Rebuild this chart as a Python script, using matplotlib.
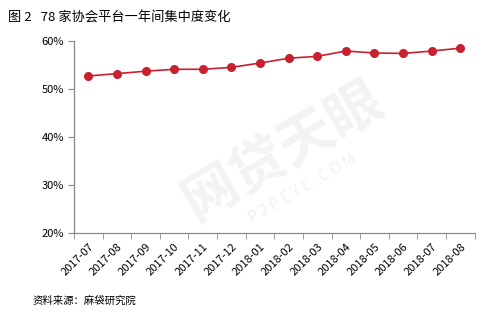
import matplotlib
matplotlib.use("Agg")
import matplotlib.pyplot as plt
import numpy as np
from matplotlib.ticker import FixedLocator, PercentFormatter

plt.rcParams['font.family'] = ['Noto Sans CJK SC', 'DejaVu Sans']

months = ["2017-07", "2017-08", "2017-09", "2017-10", "2017-11", "2017-12", "2018-01",
          "2018-02", "2018-03", "2018-04", "2018-05", "2018-06", "2018-07", "2018-08"]
values = [52.7, 53.2, 53.7, 54.1, 54.1, 54.5, 55.4, 56.4, 56.8, 57.9, 57.5, 57.4, 57.9, 58.5]
yticks = [20, 30, 40, 50, 60]

fig = plt.figure(figsize=(4.88, 3.15), dpi=100)
ax = fig.add_axes([0.1516, 0.260, 0.821, 0.610])

x = np.arange(len(months))
color = "#C8202F"
ax.plot(x, values, color=color, lw=1.2, marker="o", markersize=5.5, zorder=3)

ax.set_xlim(-0.5, len(months) - 0.5)
ax.set_ylim(20, 60)
ax.yaxis.set_major_locator(FixedLocator(yticks))
ax.yaxis.set_major_formatter(PercentFormatter(decimals=0))
ax.set_xticks(x)
ax.set_xticklabels(months, rotation=45, ha="right", rotation_mode="anchor", fontsize=8)
ax.tick_params(axis="x", length=0, pad=6)
ax.set_xticks(np.arange(-0.5, len(months), 1), minor=True)
ax.tick_params(axis="x", which="minor", length=4, color="#888888")
ax.tick_params(axis="y", labelsize=8, length=4, color="#888888", pad=3)

for s in ["top", "right"]:
    ax.spines[s].set_visible(False)
for s in ["left", "bottom"]:
    ax.spines[s].set_color("#888888")
    ax.spines[s].set_linewidth(0.9)

# watermark
fig.text(0.58, 0.52, "网贷天眼", fontsize=40, color="#000000", alpha=0.05,
         rotation=30, ha="center", va="center", fontweight="bold")
fig.text(0.62, 0.40, "P 2 P E Y E . C O M", fontsize=11, color="#000000", alpha=0.06,
         rotation=30, ha="center", va="center")

fig.text(0.016, 0.965, "图 2   78 家协会平台一年间集中度变化", fontsize=9.5, ha="left", va="top")
fig.text(0.066, 0.045, "资料来源：麻袋研究院", fontsize=7.5, ha="left", va="center")

fig.savefig("out.png", dpi=100)
